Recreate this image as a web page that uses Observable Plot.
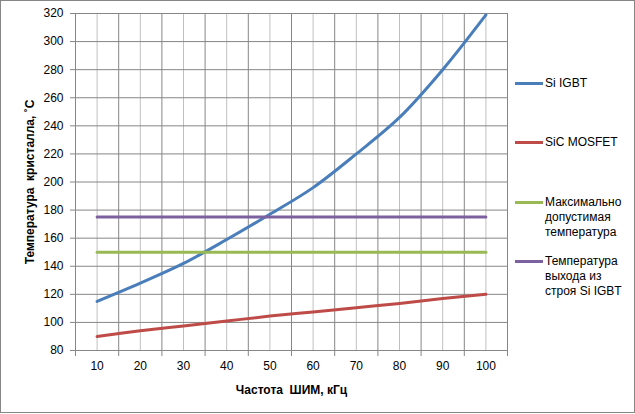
<!DOCTYPE html>
<html><head><meta charset="utf-8">
<script src="https://cdn.jsdelivr.net/npm/d3@7"></script>
<script src="https://cdn.jsdelivr.net/npm/@observablehq/plot@0.6"></script>
<style>
body{margin:0;background:#fff;}
#chart{position:relative;width:635px;height:414px;font-family:"Liberation Sans",Arial,sans-serif;}
#chart svg{position:absolute;left:0;top:0;}
#frame{position:absolute;left:0;top:0;width:633px;height:411px;border:1px solid #868686;pointer-events:none;}
#legend{position:absolute;left:515px;top:0;font-size:12px;color:#000;line-height:15px;}
.item{position:absolute;left:0;display:flex;align-items:flex-start;white-space:nowrap;}
.sw{width:28px;height:3px;margin-top:6px;margin-right:2px;flex:none;}
</style></head><body>
<div id="chart"><div id="legend"></div><div id="frame"></div></div>
<script>
const freq = [10, 20, 30, 40, 50, 60, 70, 80, 90, 100];
const categoryBounds = [5, 15, 25, 35, 45, 55, 65, 75, 85, 95, 105];
const siIGBT = [115, 128, 142, 159, 177, 196, 220, 246, 280, 319];
const sicMOSFET = [90, 94, 97.5, 101, 104.5, 107.5, 110.5, 113.5, 117, 120];
const maxTemp = [150, 150, 150, 150, 150, 150, 150, 150, 150, 150];
const failTemp = [175, 175, 175, 175, 175, 175, 175, 175, 175, 175];
const yTicks = [80, 100, 120, 140, 160, 180, 200, 220, 240, 260, 280, 300, 320];
const seriesNames = ["Si IGBT", "SiC MOSFET", "Максимально допустимая температура", "Температура выхода из строя Si IGBT"];
const legendLabels = ["Si IGBT", "SiC MOSFET", "Максимально<br>допустимая<br>температура", "Температура<br>выхода из<br>строя Si IGBT"];
const seriesColors = ["#4a7ebb", "#be4b48", "#98b954", "#7d60a0"];
const yTitle = "Температура  кристалла, ˚С";
const xTitle = "Частота  ШИМ, кГц";

const seriesValues = [siIGBT, sicMOSFET, maxTemp, failTemp];
const rows = seriesValues.flatMap((vals, s) => freq.map((f, i) => ({x: f, y: vals[i], name: seriesNames[s]})));

const plot = Plot.plot({
  width: 635, height: 414,
  marginLeft: 75, marginRight: 128, marginTop: 13, marginBottom: 64,
  x: {domain: [5, 105]},
  y: {domain: [80, 320]},
  color: {domain: seriesNames, range: seriesColors},
  style: {fontFamily: '"Liberation Sans", Arial, sans-serif', fontSize: "12px", color: "#000", background: "transparent"},
  marks: [
    Plot.ruleX(freq, {stroke: "#c0c0c0", strokeWidth: 1}),
    Plot.ruleX(categoryBounds, {stroke: "#868686", strokeWidth: 1}),
    Plot.ruleY(yTicks, {stroke: "#868686", strokeWidth: 1}),
    Plot.axisY({ticks: yTicks, tickSize: 5, tickPadding: 7, label: null, stroke: "#868686", fill: "#000"}),
    Plot.axisX({ticks: categoryBounds, tickSize: 6, tickFormat: () => "", label: null, stroke: "#868686"}),
    Plot.axisX({ticks: freq, tickSize: 0, tickPadding: 11, label: null, fill: "#000"}),
    Plot.line(rows, {x: "x", y: "y", stroke: "name", z: "name", strokeWidth: 3, curve: "catmull-rom"}),
    Plot.text([yTitle], {frameAnchor: "left", dx: -45, rotate: -90, textAnchor: "middle", lineAnchor: "middle", fontWeight: "bold", fontSize: 12}),
    Plot.text([xTitle], {frameAnchor: "bottom", dy: 40, textAnchor: "middle", lineAnchor: "middle", fontWeight: "bold", fontSize: 12})
  ]
});
document.getElementById("chart").prepend(plot);

const legendTops = [76, 135, 195, 254];
const legend = document.getElementById("legend");
seriesNames.forEach((n, i) => {
  const it = document.createElement("div");
  it.className = "item";
  it.style.top = legendTops[i] + "px";
  it.innerHTML = `<div class="sw" style="background:${seriesColors[i]}"></div><div>${legendLabels[i]}</div>`;
  legend.appendChild(it);
});
</script>
</body></html>
